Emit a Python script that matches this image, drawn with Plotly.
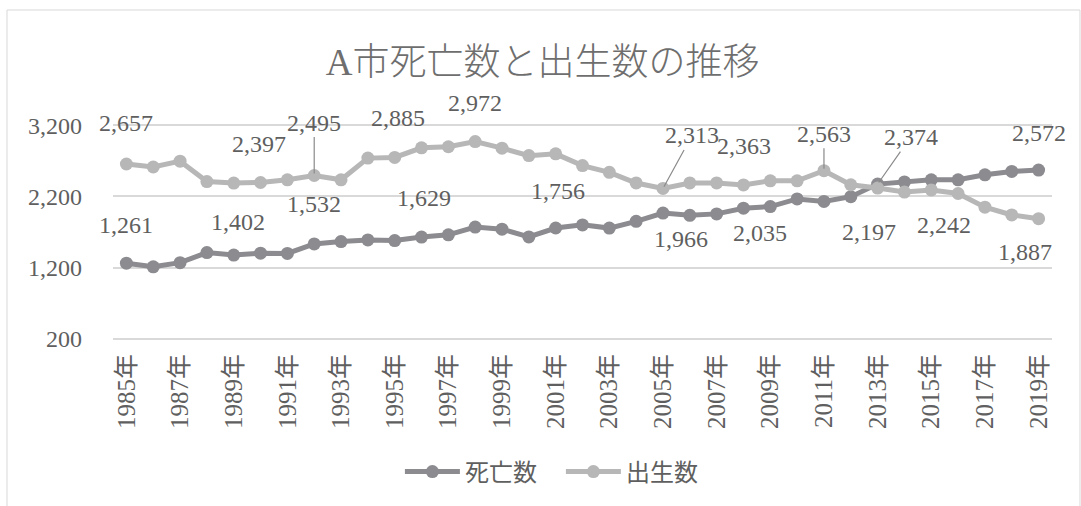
import plotly.graph_objects as go

years = list(range(1985, 2020))
deaths = [1261, 1210, 1268, 1410, 1375, 1402, 1398, 1532, 1565, 1588, 1580, 1629,
          1660, 1770, 1740, 1630, 1756, 1800, 1755, 1850, 1966, 1935, 1955, 2035,
          2058, 2165, 2130, 2197, 2374, 2405, 2435, 2435, 2505, 2552, 2572]
births = [2657, 2615, 2697, 2410, 2388, 2397, 2435, 2495, 2435, 2740, 2750, 2885,
          2900, 2972, 2880, 2775, 2800, 2635, 2540, 2390, 2313, 2390, 2390, 2363,
          2420, 2420, 2563, 2365, 2318, 2262, 2292, 2242, 2050, 1940, 1887]
tick_years = years[::2]
tick_labels = [f"{y}年" for y in tick_years]
y_ticks = [200, 1200, 2200, 3200]

# labelled points: (year, dx, dy, leader line)
death_labels = [(1985, 0, -38, False), (1990, -23, -31, False), (1992, 0, -40, False),
                (1996, 2, -39, False), (2001, 2, -37, False), (2005, 18, 26, False),
                (2008, 17, 25, False), (2012, 18, 35, False), (2013, 33, -47, True),
                (2019, 0, -37, False)]
birth_labels = [(1985, 0, -41, False), (1990, -2, -38, False), (1992, 0, -53, True),
                (1996, -24, -30, False), (1998, 0, -39, False), (2005, 29, -53, True),
                (2008, 1, -39, False), (2011, 0, -37, True), (2016, -14, 32, False),
                (2019, -14, 33, False)]

FONT = "Liberation Serif, Noto Sans CJK JP"
TXT = "#5f5f5f"
C_DEATH = "#8b8b90"
C_BIRTH = "#b7b7b7"
GRID = "#d9d9d9"

fig = go.Figure()
fig.add_trace(go.Scatter(x=years, y=deaths, name="死亡数", mode="lines+markers",
                         line=dict(color=C_DEATH, width=5),
                         marker=dict(color=C_DEATH, size=13)))
fig.add_trace(go.Scatter(x=years, y=births, name="出生数", mode="lines+markers",
                         line=dict(color=C_BIRTH, width=5),
                         marker=dict(color=C_BIRTH, size=13)))

annotations = []
for series, labels in ((deaths, death_labels), (births, birth_labels)):
    for yr, dx, dy, leader in labels:
        v = series[years.index(yr)]
        txt = f"{v:,}"
        if leader:
            annotations.append(dict(x=yr, y=v, text=txt, showarrow=True, arrowhead=0,
                                    arrowwidth=1.2, arrowcolor="#8a8a8a", ax=dx, ay=dy,
                                    standoff=2, font=dict(family=FONT, size=24, color=TXT)))
        else:
            annotations.append(dict(x=yr, y=v, text=txt, showarrow=False,
                                    xshift=dx, yshift=-dy,
                                    font=dict(family=FONT, size=24, color=TXT)))

shapes = [dict(type="rect", xref="paper", yref="paper", x0=-0.1129, x1=1.0298,
               y0=-0.9, y1=1.5278, line=dict(color=GRID, width=1),
               fillcolor="rgba(0,0,0,0)")]

fig.update_layout(
    width=1081, height=506,
    margin=dict(l=113, r=29, t=124, b=166, autoexpand=False),
    paper_bgcolor="white", plot_bgcolor="white",
    title=dict(text="A市死亡数と出生数の推移", x=0.502, xanchor="center",
               y=1 - 62 / 506, yanchor="middle",
               font=dict(family=FONT, size=37, color="#6e6e6e", weight=300)),
    font=dict(family=FONT, size=24, color=TXT),
    showlegend=True,
    legend=dict(orientation="h", x=0.477, xanchor="center", y=-0.611, yanchor="middle",
                itemwidth=55, entrywidth=91, font=dict(family=FONT, size=24, color=TXT),
                bgcolor="rgba(0,0,0,0)"),
    annotations=annotations,
    shapes=shapes,
)
fig.update_xaxes(range=[1984.5, 2019.5], tickmode="array", tickvals=tick_years,
                 ticktext=tick_labels, tickangle=-90, showgrid=False, zeroline=False,
                 showline=False, ticks="", ticklabelstandoff=8,
                 tickfont=dict(family=FONT, size=25, color=TXT))
fig.update_yaxes(range=[180, 3220], tickmode="array", tickvals=y_ticks,
                 ticktext=[f"{v:,}" for v in y_ticks], showgrid=True,
                 gridcolor=GRID, gridwidth=1.5, zeroline=False, showline=False,
                 ticklabelstandoff=30, tickfont=dict(family=FONT, size=24, color=TXT))

fig.write_html("out.html", config={"displayModeBar": False},
               post_script="document.body.style.margin='0';document.body.style.padding='0';")
